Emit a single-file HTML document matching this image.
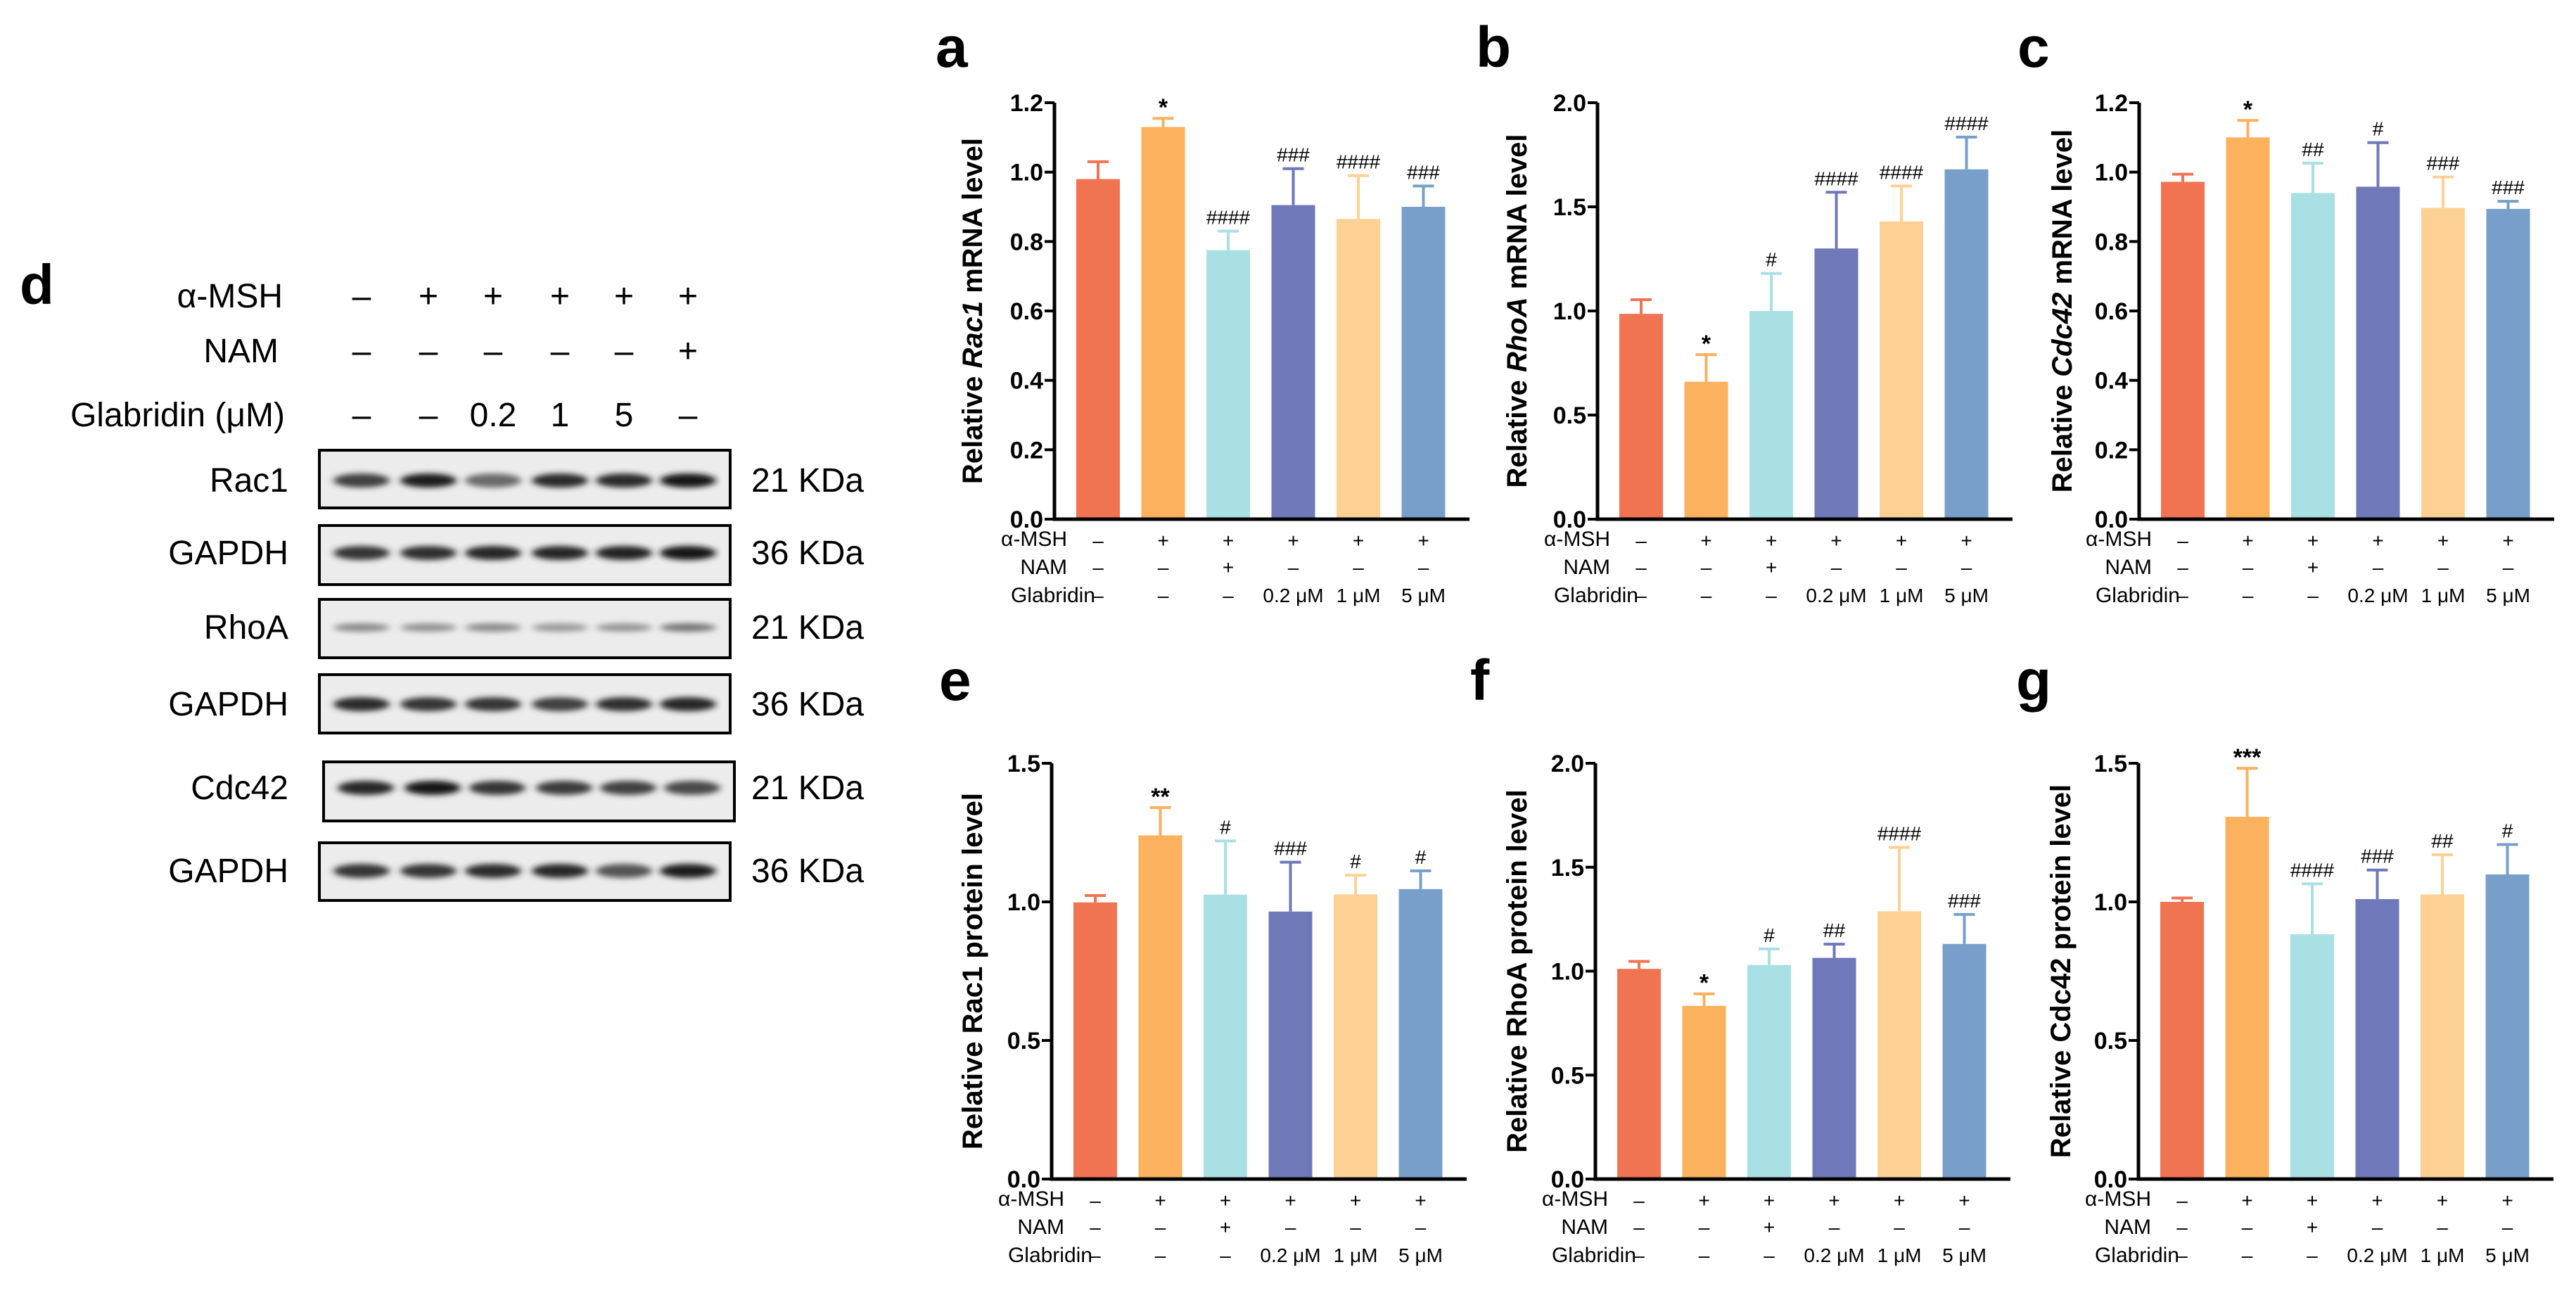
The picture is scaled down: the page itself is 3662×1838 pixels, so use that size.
<!DOCTYPE html>
<html><head><meta charset="utf-8">
<style>
html,body{margin:0;padding:0;background:#fff;}
svg{display:block;font-family:"Liberation Sans",Arial,sans-serif;}
</style></head>
<body>
<svg id="fig" width="3662" height="1838" viewBox="0 0 3662 1838" xmlns="http://www.w3.org/2000/svg">
<defs>
<filter id="blur" x="-20%" y="-100%" width="140%" height="300%"><feGaussianBlur stdDeviation="5 4"/></filter>
</defs>
<g id="blot"></g>
<g id="charts"></g>
</svg>
<script>
// ---- chart data ----
const groupLabels = ["Control","α-MSH","α-MSH+NAM","Glabridin 0.2 µM","Glabridin 1 µM","Glabridin 5 µM"];
const aValues = [0.98,1.13,0.775,0.905,0.865,0.90];
const aErrTop = [1.03,1.155,0.83,1.01,0.99,0.96];
const aSig = ["","*","####","###","####","###"];
const aTicks = ["0.0","0.2","0.4","0.6","0.8","1.0","1.2"];
const bValues = [0.986,0.66,1.0,1.30,1.43,1.68];
const bErrTop = [1.054,0.79,1.18,1.57,1.60,1.835];
const bSig = ["","*","#","####","####","####"];
const bTicks = ["0.0","0.5","1.0","1.5","2.0"];
const cValues = [0.972,1.10,0.94,0.958,0.897,0.894];
const cErrTop = [0.994,1.149,1.026,1.085,0.986,0.916];
const cSig = ["","*","##","#","###","###"];
const cTicks = ["0.0","0.2","0.4","0.6","0.8","1.0","1.2"];
const eValues = [0.998,1.24,1.026,0.965,1.027,1.046];
const eErrTop = [1.023,1.34,1.22,1.143,1.096,1.112];
const eSig = ["","**","#","###","#","#"];
const eTicks = ["0.0","0.5","1.0","1.5"];
const fValues = [1.011,0.833,1.03,1.064,1.288,1.131];
const fErrTop = [1.047,0.891,1.107,1.13,1.595,1.273];
const fSig = ["","*","#","##","####","###"];
const fTicks = ["0.0","0.5","1.0","1.5","2.0"];
const gValues = [1.0,1.307,0.883,1.01,1.027,1.099];
const gErrTop = [1.014,1.482,1.065,1.115,1.17,1.207];
const gSig = ["","***","####","###","##","#"];
const gTicks = ["0.0","0.5","1.0","1.5"];
const msh = ["–","+","+","+","+","+"];
const nam = ["–","–","+","–","–","–"];
const glab = ["–","–","–","0.2 μM","1 μM","5 μM"];
const colors = ["#F07352","#FBB15E","#A9E0E3","#6F78B9","#FDD193","#789FC9"];
// ---- blot data ----
const lanes = ["1","2","3","4","5","6"];
const blotMSH = ["–","+","+","+","+","+"];
const blotNAM = ["–","–","–","–","–","+"];
const blotGlab = ["–","–","0.2","1","5","–"];
const blotRows = ["Rac1","GAPDH","RhoA","GAPDH","Cdc42","GAPDH"];
const blotKDa = ["21 KDa","36 KDa","21 KDa","36 KDa","21 KDa","36 KDa"];
const bandRac1 = [0.8,0.95,0.6,0.9,0.9,1.0];
const bandG1 = [0.85,0.88,0.92,0.92,0.93,1.0];
const bandRhoA = [0.45,0.42,0.45,0.38,0.4,0.55];
const bandG2 = [0.9,0.85,0.85,0.8,0.88,0.92];
const bandCdc = [0.92,1.0,0.85,0.82,0.8,0.75];
const bandG3 = [0.85,0.85,0.9,0.92,0.7,0.95];

const NS="http://www.w3.org/2000/svg";
function mk(tag,attrs,parent,text){const e=document.createElementNS(NS,tag);for(const k in attrs)e.setAttribute(k,attrs[k]);if(text!==undefined)e.textContent=text;parent.appendChild(e);return e;}

const charts=document.getElementById('charts');
function drawChart(p){
  const g=mk('g',{},charts);
  
  
  const yMax=parseFloat(p.ticks[p.ticks.length-1]);
  const yScale=v=>p.y0-(v/yMax)*(p.y0-p.yTop);
  const xBar=i=>p.x0+31+i*92.5;
  const L=mk('text',{x:p.letterX,y:p.letterY,'font-size':82,'font-weight':'bold'},g,p.letter);
  
  
  // bars
  p.values.forEach((v,i)=>{
    const x=xBar(i),w=62,c=colors[i];
    const r=mk('rect',{x:x,y:yScale(v),width:w,height:p.y0-yScale(v),fill:c},g);
    
    
    const cx=x+w/2,et=yScale(p.err[i]);
    const eb=mk('path',{d:`M${cx},${yScale(v)}V${et}M${cx-15},${et}H${cx+15}`,stroke:c,'stroke-width':4,fill:'none'},g);
    
    
    if(p.sig[i]){
      const star=p.sig[i].indexOf('*')>=0;
      const s=mk('text',{x:cx,y:et-(star?4:10),'text-anchor':'middle','font-size':star?34:28,'font-weight':star?'bold':'normal'},g,p.sig[i]);
      
      
    }
    [[msh,p.y0+40],[nam,p.y0+78],[glab,p.y0+118]].forEach(([arr,yy])=>{
      const t=mk('text',{x:cx,y:yy,'text-anchor':'middle','font-size':28},g,arr[i]);
      
      
    });
  });
  // axes
  const ax=mk('path',{d:`M${p.x0},${p.yTop}V${p.y0}H${p.x0+590}`,stroke:'#000','stroke-width':5,fill:'none'},g);
  
  
  p.ticks.forEach(t=>{
    const yy=yScale(parseFloat(t));
    mk('line',{x1:p.x0-14,x2:p.x0,y1:yy,y2:yy,stroke:'#000','stroke-width':4},g);
    const tl=mk('text',{x:p.x0-16,y:yy+12,'text-anchor':'end','font-size':34,'font-weight':'bold'},g,t);
    
    
  });
  [["α-MSH",p.y0+38],["NAM",p.y0+78],["Glabridin",p.y0+118]].forEach(([lab,yy],k)=>{
    const t=mk('text',{x:p.x0+(k==2?58:18),y:yy,'text-anchor':'end','font-size':30},g,lab);
    
    
  });
  const yc=(p.y0+p.yTop)/2;
  const tt=mk('text',{x:0,y:0,transform:`translate(${p.titleX},${yc}) rotate(-90)`,'text-anchor':'middle','font-size':40,'font-weight':'bold'},g);
  
  
  p.title.forEach(([s,it])=>{const ts=mk('tspan',it?{'font-style':'italic'}:{},tt,s);});
}
drawChart({letter:'a',letterX:1330,letterY:95,x0:1499,y0:738,yTop:146,titleX:1396,values:aValues,err:aErrTop,sig:aSig,ticks:aTicks,title:[["Relative ",0],["Rac1",1],[" mRNA level",0]]});
drawChart({letter:'b',letterX:2098,letterY:95,x0:2271,y0:738,yTop:146,titleX:2170,values:bValues,err:bErrTop,sig:bSig,ticks:bTicks,title:[["Relative ",0],["RhoA",1],[" mRNA level",0]]});
drawChart({letter:'c',letterX:2868,letterY:95,x0:3041,y0:738,yTop:146,titleX:2945,values:cValues,err:cErrTop,sig:cSig,ticks:cTicks,title:[["Relative ",0],["Cdc42",1],[" mRNA level",0]]});
drawChart({letter:'e',letterX:1335,letterY:995,x0:1495,y0:1676,yTop:1085,titleX:1396,values:eValues,err:eErrTop,sig:eSig,ticks:eTicks,title:[["Relative Rac1 protein level",0]]});
drawChart({letter:'f',letterX:2090,letterY:995,x0:2268,y0:1676,yTop:1085,titleX:2170,values:fValues,err:fErrTop,sig:fSig,ticks:fTicks,title:[["Relative RhoA protein level",0]]});
drawChart({letter:'g',letterX:2866,letterY:995,x0:3040,y0:1676,yTop:1085,titleX:2943,values:gValues,err:gErrTop,sig:gSig,ticks:gTicks,title:[["Relative Cdc42 protein level",0]]});

// ---- western blot ----
const blot=document.getElementById('blot');
const laneX=[514,609,701,796,887,978];
const dl=mk('text',{x:28,y:432,'font-size':80,'font-weight':'bold'},blot,'d');


[["α-MSH",402,437,blotMSH],["NAM",396,515,blotNAM],["Glabridin (μM)",405,606,blotGlab]].forEach(([lab,xr,yy,arr])=>{
  const t=mk('text',{x:xr,y:yy,'text-anchor':'end','font-size':48},blot,lab);
  
  
  arr.forEach((s,i)=>{
    const q=mk('text',{x:laneX[i],y:yy,'text-anchor':'middle','font-size':48},blot,s);
    
    
  });
});
const boxes=[[454,640,82,683],[454,747,84,786],[454,852,83,892],[454,959,83,1001],[460,1083,84,1120],[454,1198,82,1238]];
const bands=[bandRac1,bandG1,bandRhoA,bandG2,bandCdc,bandG3];
boxes.forEach(([bx,by,bh,bandY],r)=>{
  const gg=mk('g',{},blot);
  
  
  mk('rect',{x:bx,y:by,width:584,height:bh,fill:'#ececec'},gg);
  bands[r].forEach((v,i)=>{
    const c=Math.round(235-215*v);
    mk('ellipse',{cx:laneX[i]+(bx-454),cy:bandY,rx:40,ry:r==2?6:10,fill:`rgb(${c},${c},${c})`,filter:'url(#blur)'},gg);
  });
  mk('rect',{x:bx,y:by,width:584,height:bh,fill:'none',stroke:'#000','stroke-width':4},gg);
  const lt=mk('text',{x:410,y:bandY+16,'text-anchor':'end','font-size':48},gg,blotRows[r]);
  
  
  const kt=mk('text',{x:1068,y:bandY+16,'font-size':48},gg,blotKDa[r]);
  
  
});
</script>
</body></html>
